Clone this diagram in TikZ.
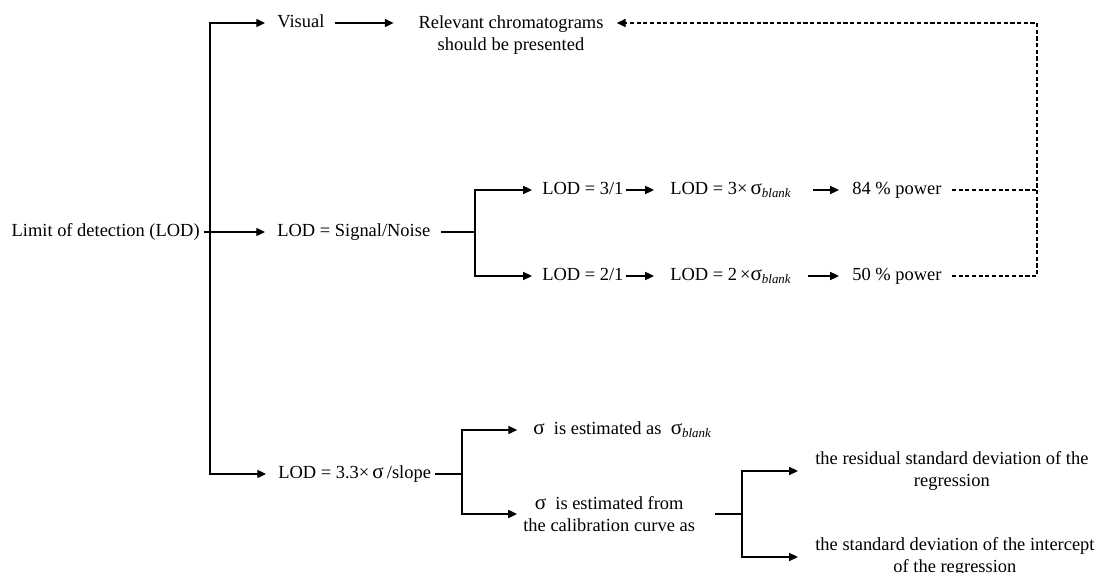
\documentclass[tikz,border=0pt]{standalone}
\usepackage{fontspec}
\setmainfont{Liberation Serif}
\usepackage{tikz}
\usetikzlibrary{arrows.meta,positioning,calc}

\tikzset{
    lbl/.style={inner xsep=0pt, inner ysep=1pt, text height=7pt, text depth=2pt, font=\fontsize{10.5}{12.5}\selectfont},
    blk/.style={inner xsep=0pt, inner ysep=1pt, align=center, font=\fontsize{10.5}{12.5}\selectfont},
    ln/.style={line width=0.7pt},
    arr/.style={ln, -{Triangle[length=5pt,width=4.6pt]}},
    dsh/.style={line width=0.6pt, dash pattern=on 2.4pt off 1.4pt}
}
\newcommand{\sgm}{{\fontsize{12}{12}\selectfont σ}}
\newcommand{\sblank}{\sgm\textsubscript{\itshape blank}}

\begin{document}
\begin{tikzpicture}[x=0.02cm, y=-0.02cm]
    \useasboundingbox (0,0) rectangle (1096,573);
    % Root and first level
    \node[lbl, anchor=east] (lod) at (200,232) {Limit of detection (LOD)};
    \coordinate (sp) at (210,232);
    \node[lbl, anchor=west] (vis) at (277,23) {Visual};
    \node[lbl, anchor=west] (sn) at (277,232) {LOD = Signal/Noise};
    \node[lbl, anchor=west] (slope) at (278,474) {LOD = 3.3×\,\sgm\,/slope};
    \draw[arr, shorten <=2pt, shorten >=6.8pt] (lod.east) -- (sn.west);
    \draw[arr, shorten >=6.8pt] (sp) |- (vis.west);
    \draw[arr, shorten >=6.8pt] (sp) |- (slope.west);

    % Visual
    \node[blk, anchor=north] (relev) at (511,14) {Relevant chromatograms\\should be presented};
    \draw[arr, shorten <=5.7pt, shorten >=14pt] (vis.east) -- (vis.east -| relev.west);

    % Signal/Noise
    \coordinate (jsn) at (475,232);
    \node[lbl, anchor=west] (r31) at (542,190) {LOD = 3/1};
    \node[lbl, anchor=west] (r21) at (542,276) {LOD = 2/1};
    \node[lbl, anchor=west] (r3s) at (670,190) {LOD = 3×\,\sblank};
    \node[lbl, anchor=west] (r2s) at (670,276) {LOD = 2\,×\sblank};
    \node[lbl, anchor=west] (p84) at (852,190) {84 \% power};
    \node[lbl, anchor=west] (p50) at (852,276) {50 \% power};
    \draw[ln, shorten <=6pt] (sn.east) -- (jsn);
    \draw[arr, shorten >=5.7pt] (jsn) |- (r31.west);
    \draw[arr, shorten >=5.7pt] (jsn) |- (r21.west);
    \draw[arr, shorten <=1.1pt, shorten >=9.1pt] (r31.east) -- (r3s.west);
    \draw[arr, shorten <=1.1pt, shorten >=9.1pt] (r21.east) -- (r2s.west);
    \draw[arr, shorten <=12pt, shorten >=7.4pt] (r3s.east) -- (p84.west);
    \draw[arr, shorten <=9pt, shorten >=7.4pt] (r2s.east) -- (p50.west);

    % Dashed return to chromatograms
    \coordinate (ret) at (1037,23);
    \draw[dsh, shorten <=5.7pt] (p84.east) -- (p84.east -| ret);
    \draw[dsh, -{Triangle[length=5pt,width=4.6pt]}, shorten <=5.7pt, shorten >=7.4pt]
        (p50.east) -| (ret) -- (ret -| relev.east);

    % Slope
    \coordinate (jsl) at (462,474);
    \node[lbl, anchor=west] (sbl) at (533,430) {\sgm\ \ is estimated as\ \ \sblank};
    \node[blk, anchor=west] (scal) at (523,514) {\sgm\ \ is estimated from\\the calibration curve as};
    \draw[ln, shorten <=2.3pt] (slope.east) -- (jsl);
    \draw[arr, shorten >=9pt] (jsl) |- (sbl.west);
    \draw[arr, shorten >=3.4pt] (jsl) |- (scal.west);

    % Calibration curve
    \coordinate (jcal) at (742,514);
    \node[blk, anchor=west] (res) at (815,471) {the residual standard deviation of the\\regression};
    \node[blk, anchor=west] (sdi) at (815,557) {the standard deviation of the intercept\\of the regression};
    \draw[ln, shorten <=11pt] (scal.east) -- (jcal);
    \draw[arr, shorten >=9.7pt] (jcal) |- (res.west);
    \draw[arr, shorten >=9.7pt] (jcal) |- (sdi.west);
\end{tikzpicture}
\end{document}
